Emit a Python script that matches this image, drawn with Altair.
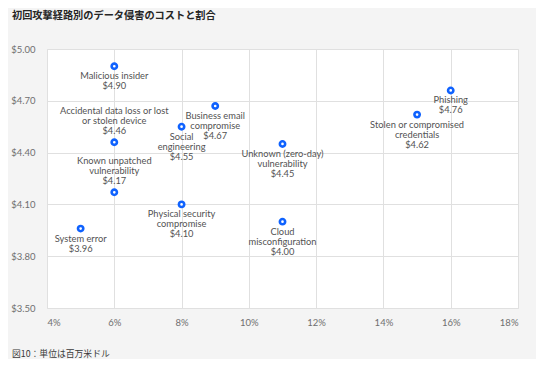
import altair as alt
import pandas as pd

title_text = "初回攻撃経路別のデータ侵害のコストと割合"
footer_text = "図10：単位は百万米ドル"

vectors = [
    "Phishing",
    "Stolen or compromised\ncredentials",
    "Business email\ncompromise",
    "Social\nengineering",
    "Malicious insider",
    "Accidental data loss or lost\nor stolen device",
    "Known unpatched\nvulnerability",
    "Unknown (zero-day)\nvulnerability",
    "Physical security\ncompromise",
    "Cloud\nmisconfiguration",
    "System error",
]
share = [0.16, 0.15, 0.09, 0.08, 0.06, 0.06, 0.06, 0.11, 0.08, 0.11, 0.05]
cost = [4.76, 4.62, 4.67, 4.55, 4.90, 4.46, 4.17, 4.45, 4.10, 4.00, 3.96]
labels_above = [
    "Accidental data loss or lost\nor stolen device",
    "Known unpatched\nvulnerability",
]

x_ticks = [0.04, 0.06, 0.08, 0.10, 0.12, 0.14, 0.16, 0.18]
y_ticks = [3.50, 3.80, 4.10, 4.40, 4.70, 5.00]

df = pd.DataFrame({"vector": vectors, "share": share, "cost": cost})
df["label"] = [f"{v}\n${c:.2f}" for v, c in zip(vectors, cost)]
df["above"] = df["vector"].isin(labels_above)

FONT = "Lato"
JP = "Noto Sans CJK JP"
BLUE = "#0f62fe"

x_enc = alt.X(
    "share:Q",
    scale=alt.Scale(domain=[0.04, 0.18], nice=False, zero=False),
    axis=alt.Axis(values=x_ticks, format=".0%", title=None, domain=False,
                  ticks=False, labelPadding=9, grid=True, gridColor="#e0e0e0",
                  labelColor="#6f6f6f", labelFontSize=9.5, labelFont=FONT),
)
y_enc = alt.Y(
    "cost:Q",
    scale=alt.Scale(domain=[3.5, 5.0], nice=False, zero=False),
    axis=alt.Axis(values=y_ticks, format="$.2f", title=None, domain=False,
                  ticks=False, labelPadding=12, grid=True, gridColor="#e0e0e0",
                  labelColor="#6f6f6f", labelFontSize=9.5, labelFont=FONT),
)

base = alt.Chart(df)

points = base.mark_point(
    shape="circle", size=28, strokeWidth=2.6, color=BLUE, fill="white", filled=False, opacity=1
).encode(x=x_enc, y=y_enc)

labels_below = base.transform_filter("!datum.above").mark_text(
    baseline="top", align="center", dy=6, fontSize=9.3, lineHeight=10,
    lineBreak="\n", color="#525252", font=FONT
).encode(x="share:Q", y="cost:Q", text="label:N")

labels_up = base.transform_filter("datum.above").mark_text(
    baseline="bottom", align="center", dy=-26, fontSize=9.3, lineHeight=10,
    lineBreak="\n", color="#525252", font=FONT
).encode(x="share:Q", y="cost:Q", text="label:N")

title = alt.Chart(pd.DataFrame({"t": [title_text]})).mark_text(
    align="left", baseline="middle", fontSize=10.2, fontWeight="bold",
    color="#262626", font=JP
).encode(x=alt.value(-35), y=alt.value(-33), text="t:N")

footer = alt.Chart(pd.DataFrame({"t": [footer_text]})).mark_text(
    align="left", baseline="middle", fontSize=8.8, color="#393939", font=JP
).encode(x=alt.value(-35), y=alt.value(305), text="t:N")

chart = alt.layer(points, labels_below, labels_up, title, footer).properties(
    width=471, height=259,
    autosize=alt.AutoSizeParams(type="none"),
    padding={"left": 39, "top": 41, "right": 18, "bottom": 51},
    background="#f4f4f4",
).configure_view(fill="white", stroke="#e0e0e0")

chart.save("out.html", embed_options={"renderer": "svg", "actions": False})
